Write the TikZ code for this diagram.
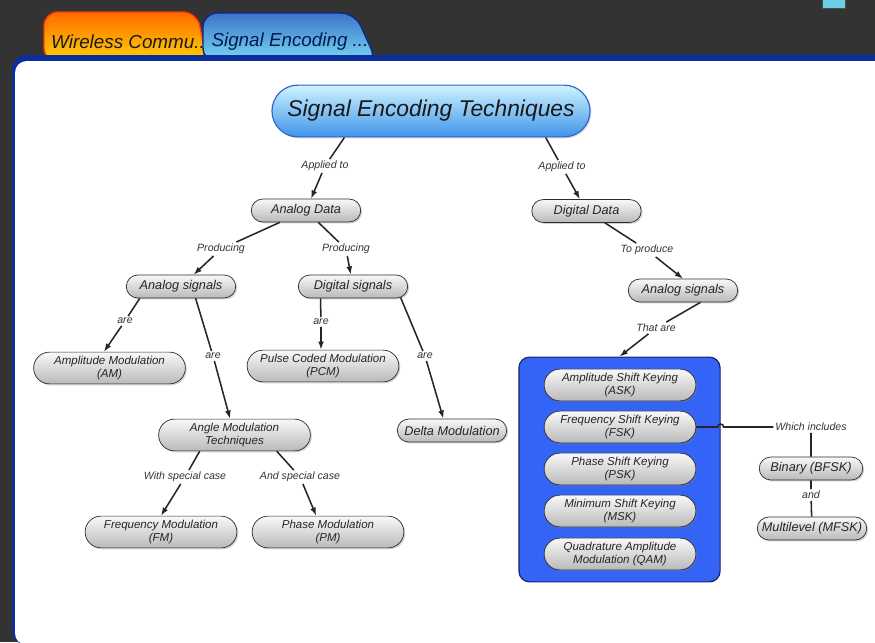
\documentclass[tikz,border=0pt]{standalone}
\usepackage{fontspec}
\setmainfont{Liberation Sans}
\usepackage{tikz}
\usetikzlibrary{shapes,shapes.misc,arrows,arrows.meta,positioning,shadows}
\definecolor{bgdark}{HTML}{333333}
\definecolor{panelblue}{HTML}{0B2F9A}
\definecolor{tabred}{HTML}{FF3A00}
\definecolor{tabtop}{HTML}{FF6A00}
\definecolor{tabbot}{HTML}{FFD400}
\definecolor{tabnavy}{HTML}{0A2A8A}
\definecolor{bluetabtop}{HTML}{3C74C8}
\definecolor{bluetabbot}{HTML}{78DAF2}
\definecolor{titletop}{HTML}{CFF3FF}
\definecolor{titlebot}{HTML}{3F94EA}
\definecolor{titleedge}{HTML}{2F66CC}
\definecolor{boxblue}{HTML}{3464F5}
\definecolor{boxedge}{HTML}{18246A}
\definecolor{tabcyan}{HTML}{6CCFE6}
\tikzstyle{grayblock}=[rounded rectangle, draw=gray!35!black, line width=0.6pt, align=center, top color=gray!5, bottom color=gray!55, drop shadow={opacity=0.35,shadow xshift=1.2pt,shadow yshift=-1.2pt}, font=\fontsize{10.8}{12}\selectfont\itshape, text=black!85, minimum width=95pt, minimum height=19.5pt, inner sep=1pt]
\tikzstyle{twoblock}=[grayblock, font=\fontsize{9.8}{11.5}\selectfont\itshape, minimum width=131pt, minimum height=27pt]
\tikzstyle{titleblock}=[rounded rectangle, draw=titleedge, line width=1pt, top color=titletop, bottom color=titlebot, drop shadow={opacity=0.3,shadow xshift=1.2pt,shadow yshift=-1.2pt}, font=\fontsize{19.4}{22}\selectfont\itshape, text=black!90, minimum width=277pt, minimum height=44pt]
\tikzstyle{groupbox}=[rectangle, rounded corners=9pt, draw=boxedge, line width=1pt, fill=boxblue, minimum width=171pt, minimum height=191pt]
\tikzstyle{linkword}=[font=\fontsize{9}{10}\selectfont\itshape, text=black!80, inner sep=1.5pt]
\tikzstyle{tabtext}=[font=\fontsize{16}{18}\selectfont\itshape]
\tikzstyle{link}=[line width=1.3pt, draw=black!85]

\begin{document}
\begin{tikzpicture}[x=0.85pt,y=-0.85pt,>={Latex[length=7pt,width=5pt]}]
\clip (0,0) rectangle (875,642);
\fill[bgdark] (0,0) rectangle (875,642);
\filldraw[fill=tabcyan, draw=black!70] (822,-2) rectangle (845,8);

% tabs
\draw[draw=tabred, line width=1.2pt, top color=tabtop, bottom color=tabbot, rounded corners=12pt] (44,62) -- (44,12) -- (197,12) -- (207,62) -- cycle;
\node[tabtext, text=black!90] (tab1) at (128,42) {Wireless Commu..};
\draw[draw=tabnavy, line width=1.2pt, top color=bluetabtop, bottom color=bluetabbot, rounded corners=12pt] (203,62) -- (203,13) -- (355,13) -- (377,62) -- cycle;
\node[tabtext, text=tabnavy!60!black] (tab2) at (290,42) {Signal Encoding ...};

% panel
\fill[panelblue, rounded corners=12pt] (12,55) rectangle (900,645);
\fill[white, rounded corners=10pt] (15,61) rectangle (900,645);

% concepts
\node[titleblock](c0) at (431,111) {Signal Encoding Techniques};
\node[grayblock](c1) at (306,210.5) {Analog Data};
\node[grayblock](c2) at (586.5,211) {Digital Data};
\node[grayblock](c3) at (181,286.5) {Analog signals};
\node[grayblock](c4) at (353,286.5) {Digital signals};
\node[grayblock](c5) at (683,290.5) {Analog signals};
\node[twoblock](c6) at (109.5,368) {Amplitude Modulation\\(AM)};
\node[twoblock](c7) at (234.5,435) {Angle Modulation\\Techniques};
\node[twoblock](c8) at (323,366) {Pulse Coded Modulation\\(PCM)};
\node[grayblock](c9) at (452,430.5) {Delta Modulation};
\node[twoblock](c10) at (161,532) {Frequency Modulation\\(FM)};
\node[twoblock](c11) at (328,532) {Phase Modulation\\(PM)};
\node[groupbox](g) at (619.5,469.5) {};
\node[twoblock](c12) at (620,385) {Amplitude Shift Keying\\(ASK)};
\node[twoblock](c13) at (620,427) {Frequency Shift Keying\\(FSK)};
\node[twoblock](c14) at (620,469) {Phase Shift Keying\\(PSK)};
\node[twoblock](c15) at (620,511) {Minimum Shift Keying\\(MSK)};
\node[twoblock](c16) at (620,554) {Quadrature Amplitude\\Modulation (QAM)};
\node[grayblock, minimum width=90pt](c17) at (811,468.5) {Binary (BFSK)};
\node[grayblock](c18) at (812,528.5) {Multilevel (MFSK)};

% linking words
\node[linkword](l1) at (325,166) {Applied to};
\node[linkword](l2) at (562,167) {Applied to};
\node[linkword](l3) at (221,249) {Producing};
\node[linkword](l4) at (346,249) {Producing};
\node[linkword](l5) at (647,250) {To produce};
\node[linkword](l6) at (125,321) {are};
\node[linkword](l7) at (213,356) {are};
\node[linkword](l8) at (321,322) {are};
\node[linkword](l9) at (425,356) {are};
\node[linkword](l10) at (656,328) {That are};
\node[linkword](l11) at (185,477) {With special case};
\node[linkword](l12) at (300,477) {And special case};
\node[linkword](l13) at (811,427) {Which includes};
\node[linkword](l14) at (811,495) {and};

\draw[link](c0.197) -- (l1);
\draw[link,->](l1) -- (c1);
\draw[link](c0.347) -- (l2);
\draw[link,->](l2) -- (c2);
\draw[link](c1) -- (l3);
\draw[link,->](l3) -- (c3);
\draw[link](c1) -- (l4);
\draw[link,->](l4) -- (c4);
\draw[link](c2) -- (l5);
\draw[link,->](l5) -- (c5.north);
\draw[link](c3.196) -- (l6);
\draw[link,->](l6) -- (c6.109);
\draw[link](c3.321) -- (l7);
\draw[link,->](l7) -- (c7);
\draw[link](c4.200) -- (l8);
\draw[link,->](l8) -- (c8.97);
\draw[link](c4.347.5) -- (l9);
\draw[link,->](l9) -- (c9.126);
\draw[link](c5.326) -- (l10);
\draw[link,->](l10) -- (g.north);
\draw[link](c7.205) -- (l11);
\draw[link,->](l11) -- (c10.north);
\draw[link](c7.339) -- (l12);
\draw[link,->](l12) -- (c11.126);
\draw[link](c13.east) -- ([xshift=-2.5pt]g.east |- c13.east) arc[start angle=180,end angle=0,radius=2.5pt] -- (l13.west);
\draw[link](l13) -- (c17);
\draw[link](c17) -- (l14);
\draw[link](l14) -- (c18);

\end{tikzpicture}
\end{document}
